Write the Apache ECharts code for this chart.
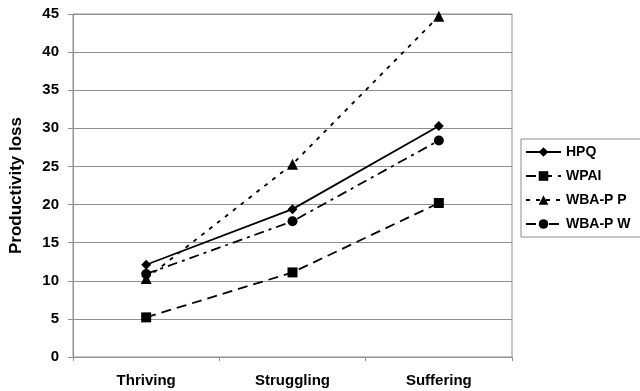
<!DOCTYPE html>
<html><head><meta charset="utf-8">
<script src="https://cdn.jsdelivr.net/npm/echarts@6/dist/echarts.min.js"></script>
<style>html,body{margin:0;padding:0;background:#fff}#c{width:640px;height:391px}</style>
</head><body><div id="c"></div>
<script>
var categories = ['Thriving', 'Struggling', 'Suffering'];
var hpq = [12.1, 19.4, 30.3];
var wpai = [5.2, 11.1, 20.2];
var wbapP = [10.3, 25.3, 44.7];
var wbapW = [10.9, 17.8, 28.4];
var yTicks = {min: 0, max: 45, interval: 5};
var seriesNames = ['HPQ', 'WPAI', 'WBA-P P', 'WBA-P W'];

var font = 'Liberation Sans, Arial, sans-serif';
function mk(name, data, symbol, size, dash) {
  return {
    name: name, type: 'line', data: data, symbol: symbol, symbolSize: size,
    itemStyle: {color: '#000'},
    lineStyle: {color: '#000', width: 1.8, type: dash},
    emphasis: {disabled: true}, animation: false
  };
}
var chart = echarts.init(document.getElementById('c'));
chart.setOption({
  animation: false,
  grid: {left: 67, right: 128, top: 14, bottom: 34, show: true, borderColor: '#909090', borderWidth: 1},
  legend: {
    orient: 'vertical', left: 521, top: 139,
    data: seriesNames,
    itemWidth: 35, itemHeight: 12, itemGap: 10,
    borderColor: '#909090', borderWidth: 1, padding: [6, 40, 6, 4],
    textStyle: {fontFamily: font, fontWeight: 'bold', fontSize: 14, color: '#000'}
  },
  xAxis: {
    type: 'category', data: categories, boundaryGap: true,
    axisLine: {lineStyle: {color: '#909090', width: 1}},
    axisTick: {show: true, length: 4, lineStyle: {color: '#909090'}},
    axisLabel: {margin: 16, fontFamily: font, fontWeight: 'bold', fontSize: 15, color: '#000'}
  },
  yAxis: {
    type: 'value', min: yTicks.min, max: yTicks.max, interval: yTicks.interval,
    name: 'Productivity loss', nameLocation: 'middle', nameGap: 48,
    nameTextStyle: {fontFamily: font, fontWeight: 'bold', fontSize: 17, color: '#000'},
    axisLine: {show: true, lineStyle: {color: '#909090', width: 1}},
    axisTick: {show: true, length: 5, lineStyle: {color: '#909090'}},
    splitLine: {lineStyle: {color: '#909090', width: 1}},
    axisLabel: {margin: 14, fontFamily: font, fontWeight: 'bold', fontSize: 15, color: '#000'}
  },
  series: [
    mk(seriesNames[0], hpq, 'diamond', 10, 'solid'),
    mk(seriesNames[1], wpai, 'rect', 10, [10, 6]),
    mk(seriesNames[2], wbapP, 'triangle', 11, [4, 6]),
    mk(seriesNames[3], wbapW, 'circle', 10, [10, 5, 3, 5])
  ]
});
</script></body></html>
